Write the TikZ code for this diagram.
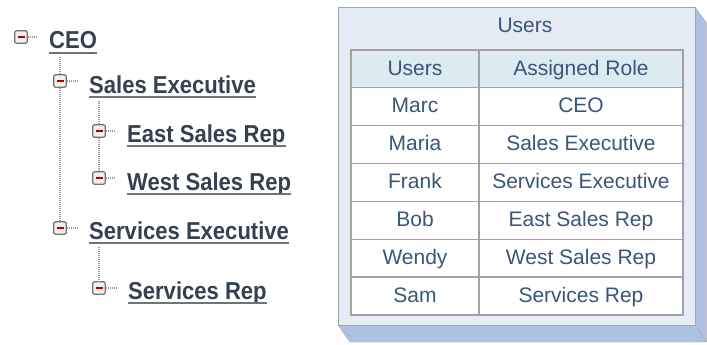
\documentclass[tikz,border=0pt]{standalone}
\usepackage{fontspec}
\setmainfont{Liberation Sans}
\newfontfamily\treefont[FakeStretch=0.9]{Liberation Sans}
\usetikzlibrary{positioning}

\definecolor{treetext}{HTML}{36404E}
\definecolor{tabtext}{HTML}{3B5679}
\definecolor{panelfill}{HTML}{E5ECF6}
\definecolor{depthfill}{HTML}{ADC2E0}
\definecolor{headfill}{HTML}{DCEAF2}
\definecolor{gridgray}{HTML}{A2A2A2}

\begin{document}
\begin{tikzpicture}[x=1pt,y=-1pt,
  icon/.style={draw=black!55, fill=black!6, line width=1.3pt, rounded corners=1.5pt,
    minimum size=12.5pt, inner sep=0pt,
    path picture={\draw[red!70!black, line width=1.8pt]
      ([xshift=-3.5pt]path picture bounding box.center) --
      ([xshift=3.5pt]path picture bounding box.center);}},
  role/.style={font=\treefont\bfseries\fontsize{24.5}{24.5}\selectfont, text=treetext,
    anchor=base west, inner sep=0pt},
  uline/.style={draw=black!55, line width=1.6pt},
  branch/.style={draw=black!40, line width=1.3pt, dash pattern=on 1pt off 1pt},
  cell/.style={font=\fontsize{21}{21}\selectfont, text=tabtext, anchor=base, inner sep=0pt}]
\useasboundingbox (0,0) rectangle (707,345);

% role tree
\node[icon] (i1) at (21,37) {};
\node[role] (t1) at (49,49) {CEO};
\node[icon] (i2) at (60,81) {};
\node[role] (t2) at (89,93) {Sales Executive};
\node[icon] (i3) at (99,131) {};
\node[role] (t3) at (127,142) {East Sales Rep};
\node[icon] (i4) at (99,178) {};
\node[role] (t4) at (127,190) {West Sales Rep};
\node[icon] (i5) at (60,228) {};
\node[role] (t5) at (89,239) {Services Executive};
\node[icon] (i6) at (99,288) {};
\node[role] (t6) at (128,299) {Services Rep};
\foreach \t in {t1,t2,t3,t4,t5,t6}
  \draw[uline] ([yshift=-4pt]\t.base west) -- ([yshift=-4pt]\t.base east);
\draw[branch, shorten >=12pt] (i1.east) -- (i1.east -| t1.west);
\draw[branch, shorten >=12pt] (i2.east) -- (i2.east -| t2.west);
\draw[branch, shorten >=12pt] (i3.east) -- (i3.east -| t3.west);
\draw[branch, shorten >=12pt] (i4.east) -- (i4.east -| t4.west);
\draw[branch, shorten >=12pt] (i5.east) -- (i5.east -| t5.west);
\draw[branch, shorten >=12pt] (i6.east) -- (i6.east -| t6.west);
\draw[branch, shorten <=8pt] (i2 |- t1.base) -- (i2.north);
\draw[branch] (i2.south) -- (i5.north);
\draw[branch, shorten <=8pt] (i3 |- t2.base) -- (i3.north);
\draw[branch] (i3.south) -- (i4.north);
\draw[branch, shorten <=8pt] (i6 |- t5.base) -- (i6.north);

% users panel
\draw[black!35, fill=depthfill] (695,7) -- (706.5,23) -- (706.5,342) -- (350,342)
  -- (338,325) -- cycle;
\draw[black!35, fill=panelfill] (338,7) rectangle (695,325);
\draw[black!35] (695,325) -- (706.5,342);
\node[cell] (title) at (525,33) {Users};

% table
\fill[headfill] (351,50) rectangle (683,87.5);
\fill[white] (351,87.5) rectangle (683,315);
\draw[gridgray, line width=1.3pt] (351,50) rectangle (683,315);
\draw[gridgray, line width=1.3pt] (479,50) -- (479,315);
\draw[gridgray, line width=1.3pt] (351,87.5) -- (683,87.5);
\draw[gridgray, line width=1.3pt] (351,125.4) -- (683,125.4);
\draw[gridgray, line width=1.3pt] (351,163.3) -- (683,163.3);
\draw[gridgray, line width=1.3pt] (351,201.3) -- (683,201.3);
\draw[gridgray, line width=1.3pt] (351,239.2) -- (683,239.2);
\draw[gridgray, line width=1.3pt] (351,277.1) -- (683,277.1);
\node[cell] (h1) at (415,75) {Users};
\node[cell] (h2) at (581,75) {Assigned Role};
\node[cell] (u1) at (415,112.5) {Marc};
\node[cell] (r1) at (581,112.5) {CEO};
\node[cell] (u2) at (415,150.4) {Maria};
\node[cell] (r2) at (581,150.4) {Sales Executive};
\node[cell] (u3) at (415,188.3) {Frank};
\node[cell] (r3) at (581,188.3) {Services Executive};
\node[cell] (u4) at (415,226.3) {Bob};
\node[cell] (r4) at (581,226.3) {East Sales Rep};
\node[cell] (u5) at (415,264.2) {Wendy};
\node[cell] (r5) at (581,264.2) {West Sales Rep};
\node[cell] (u6) at (415,302.1) {Sam};
\node[cell] (r6) at (581,302.1) {Services Rep};
\end{tikzpicture}
\end{document}
